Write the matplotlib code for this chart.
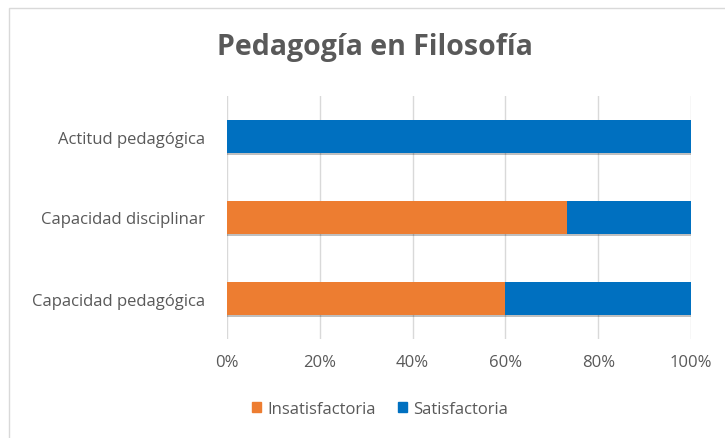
import matplotlib.pyplot as plt
import matplotlib.patheffects as pe
from matplotlib.patches import Rectangle, Patch
from matplotlib.ticker import PercentFormatter

categories = ['Capacidad pedagógica', 'Capacidad disciplinar', 'Actitud pedagógica']
insatisfactoria = [60, 73.3, 0]
satisfactoria = [40, 26.7, 100]

orange = '#ED7D31'
blue = '#0070C0'
grey = '#595959'

plt.rcParams['font.family'] = ['Open Sans', 'DejaVu Sans']

fig = plt.figure(figsize=(7.25, 4.39), dpi=100)
fig.patches.append(Rectangle((9 / 725, -0.1), 1.2, (439 - 9) / 439 + 0.1,
                             transform=fig.transFigure, fill=False,
                             edgecolor='#d9d9d9', linewidth=1))
ax = fig.add_axes([227 / 725, 1 - 340 / 439, 464 / 725, 243 / 439])

shadow = [pe.SimplePatchShadow(offset=(0, -1.5), shadow_rgbFace='#000000', alpha=0.25), pe.Normal()]
b1 = ax.barh(categories, insatisfactoria, height=0.4, color=orange, zorder=3)
b2 = ax.barh(categories, satisfactoria, left=insatisfactoria, height=0.4, color=blue, zorder=3)
for bar in list(b1) + list(b2):
    if bar.get_width() > 0:
        bar.set_path_effects(shadow)

ax.set_xlim(0, 100)
ax.set_ylim(-0.5, 2.5)
ax.set_xticks([0, 20, 40, 60, 80, 100])
ax.xaxis.set_major_formatter(PercentFormatter(decimals=0))
ax.grid(axis='x', color='#d9d9d9', linewidth=1, zorder=0)
for s in ax.spines.values():
    s.set_visible(False)
ax.tick_params(axis='both', length=0, colors=grey, labelsize=12)
ax.tick_params(axis='x', pad=11)
ax.tick_params(axis='y', pad=16)

fig.suptitle('Pedagogía en Filosofía', x=375 / 725, y=1 - 48 / 439, va='center',
             fontsize=20.5, fontweight='bold', color=grey)
handles = [Patch(color=orange, label='Insatisfactoria'), Patch(color=blue, label='Satisfactoria')]
fig.legend(handles=handles, loc='center', bbox_to_anchor=(380 / 725, 1 - 410 / 439),
           ncol=2, frameon=False, fontsize=12, labelcolor=grey,
           handlelength=0.55, handleheight=0.55, handletextpad=0.4, columnspacing=1.3)

fig.savefig('out.png', dpi=100)
